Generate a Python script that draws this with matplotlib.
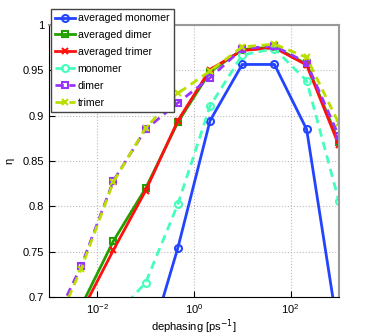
import numpy as np
import matplotlib
matplotlib.use("Agg")
import matplotlib.pyplot as plt

# ===============================
# Data
# ===============================

log_rate = [-3, -7/3, -5/3, -1, -1/3, 1/3, 1, 5/3, 7/3, 3]
dephasing = [10 ** v for v in log_rate]

avg_monomer = [0.40, 0.46, 0.54, 0.634, 0.754, 0.8945, 0.9566, 0.9566, 0.885, 0.657]
avg_dimer = [0.60, 0.690, 0.7618, 0.8199, 0.8927, 0.9485, 0.973, 0.976, 0.957, 0.8713]
avg_trimer = [0.59, 0.683, 0.7518, 0.8173, 0.8945, 0.951, 0.972, 0.975, 0.956, 0.8676]
monomer = [0.55, 0.61, 0.677, 0.7158, 0.8022, 0.9107, 0.967, 0.974, 0.9386, 0.806]
dimer = [0.66, 0.7342, 0.8283, 0.885, 0.9143, 0.9419, 0.974, 0.977, 0.9584, 0.8776]
trimer = [0.65, 0.7312, 0.8272, 0.8864, 0.9247, 0.9493, 0.976, 0.979, 0.9644, 0.8916]

plt.rcParams['font.family'] = ['Liberation Sans', 'DejaVu Sans']
plt.rcParams['font.size'] = 8

fig = plt.figure(figsize=(3.74, 3.35), dpi=100)
ax = fig.add_axes([0.131, 0.1134, 0.775, 0.8116])

lw = 2
ms = 5
ax.plot(dephasing, avg_monomer, '-o', color='#2244FF', lw=lw, ms=ms, mfc='none', mew=1.5, label='averaged monomer')
ax.plot(dephasing, avg_dimer, '-s', color='#22A000', lw=lw, ms=ms, mfc='none', mew=1.5, label='averaged dimer')
ax.plot(dephasing, avg_trimer, '-x', color='#FF1010', lw=lw, ms=ms, mew=1.5, label='averaged trimer')
ax.plot(dephasing, monomer, '--o', color='#44FFBB', lw=lw, ms=ms, mfc='none', mew=1.5, label='monomer', dashes=(3, 2))
ax.plot(dephasing, dimer, '--s', color='#9933FF', lw=lw, ms=ms, mfc='none', mew=1.5, label='dimer', dashes=(3, 2))
ax.plot(dephasing, trimer, '--x', color='#BBDD00', lw=lw, ms=ms, mew=1.5, label='trimer', dashes=(3, 2))

ax.set_xscale('log')
ax.set_xlim(1e-3, 1e3)
ax.set_ylim(0.7, 1.0)
ax.set_xticks([1e-2, 1e0, 1e2])
ax.set_xticks([], minor=True)
ax.set_yticks([0.7, 0.75, 0.8, 0.85, 0.9, 0.95, 1.0])
ax.set_yticklabels(['0.7', '0.75', '0.8', '0.85', '0.9', '0.95', '1'])
ax.tick_params(direction='in', length=4, width=0.8)
ax.grid(True, which='major', linestyle=':', color='#BBBBBB', lw=0.8)

for side in ['top', 'right']:
    ax.spines[side].set_color('#999999')
    ax.spines[side].set_linewidth(1.5)

ax.set_xlabel('dephasing [ps$^{-1}$]', labelpad=1)
ax.set_ylabel('η', labelpad=6)

fig.legend(loc='upper left', bbox_to_anchor=(0.136, 0.973), frameon=True,
           fancybox=False, edgecolor='#444444', framealpha=1, borderaxespad=0,
           handlelength=1.9, borderpad=0.4, labelspacing=0.65, handletextpad=0.25,
           fontsize=7.6)

fig.savefig('out.png', dpi=100)
